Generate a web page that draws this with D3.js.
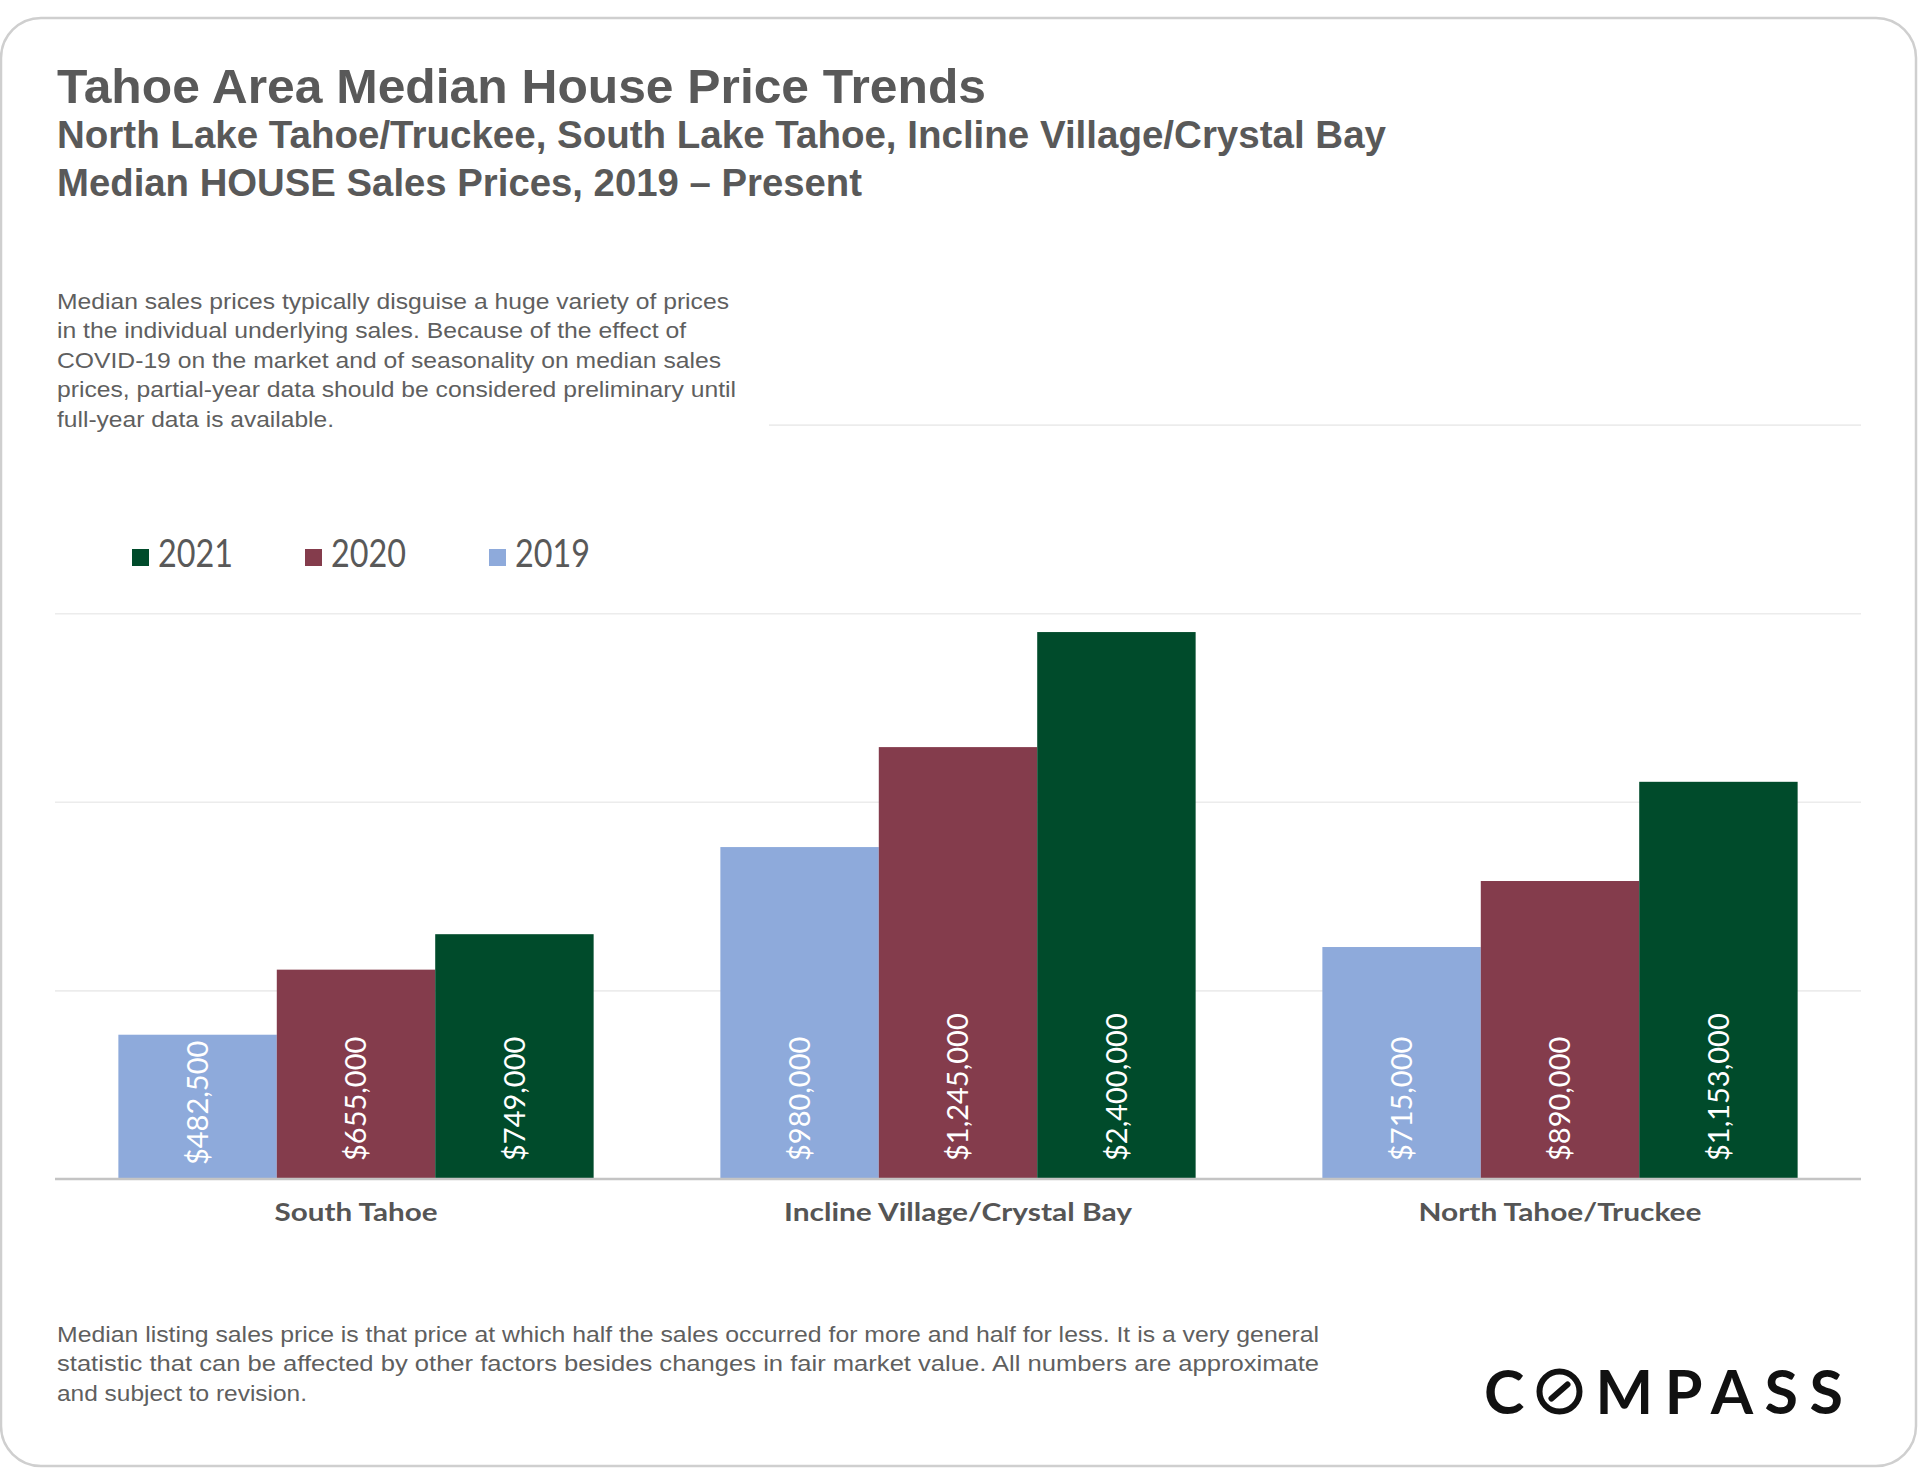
<!DOCTYPE html>
<html>
<head>
<meta charset="utf-8">
<script src="https://cdn.jsdelivr.net/npm/d3@7"></script>
<style>
  html, body { margin: 0; padding: 0; background: #fff; }
  svg { display: block; }
</style>
</head>
<body>
<svg id="chart"></svg>
<script>
const width = 1920, height = 1484;

const regions = ["South Tahoe", "Incline Village/Crystal Bay", "North Tahoe/Truckee"];
const years = ["2019", "2020", "2021"];
const legendYears = ["2021", "2020", "2019"];
const prices2019 = [482500, 980000, 715000];
const prices2020 = [655000, 1245000, 890000];
const prices2021 = [749000, 2400000, 1153000];
const gridTicks = [600000, 1100000, 1600000, 2100000];
// the reference cuts the $2.4M bar short, roughly at this level of its axis
const barCap = 1550000;

const colors = { "2019": "#8eaadb", "2020": "#843c4c", "2021": "#004b2b" };
const grey = "#595959";

const rows = regions.map((r, i) => ({
  region: r,
  values: [
    { year: "2019", v: prices2019[i] },
    { year: "2020", v: prices2020[i] },
    { year: "2021", v: prices2021[i] }
  ]
}));

const svg = d3.select("#chart").attr("width", width).attr("height", height);

// card frame
svg.append("rect")
  .attr("x", 1).attr("y", 18).attr("width", 1915).attr("height", 1448)
  .attr("rx", 40).attr("fill", "#fff")
  .attr("stroke", "#cfcfcf").attr("stroke-width", 2.5);

// plain text line, optionally squeezed to the width seen in the picture
function line(str, x, y, size, weight, family, len, fill) {
  const t = svg.append("text")
    .attr("x", x).attr("y", y)
    .attr("font-family", family)
    .attr("font-size", size)
    .attr("font-weight", weight)
    .attr("fill", fill || grey)
    .text(str);
  if (len) t.attr("textLength", len).attr("lengthAdjust", "spacingAndGlyphs");
  return t;
}

const sans = "'Liberation Sans', Arial, sans-serif";
const geo = "Lato, 'Open Sans', sans-serif";

line("Tahoe Area Median House Price Trends", 57, 103, 49, 700, sans, 929);
line("North Lake Tahoe/Truckee, South Lake Tahoe, Incline Village/Crystal Bay", 57, 148, 38, 700, sans, 1329);
line("Median HOUSE Sales Prices, 2019 \u2013 Present", 57, 196, 38, 700, sans, 805);

// scales
const x0 = d3.scaleBand().domain(regions).range([55, 1861]);
const x1 = d3.scaleBand().domain(years).range([0, x0.bandwidth()]).paddingOuter(0.4);
const y = d3.scaleLinear().domain([100000, 2100000]).range([1179, 424.6]);

// gridlines
const grid = svg.append("g")
  .attr("transform", "translate(55,0)")
  .call(d3.axisLeft(y).tickValues(gridTicks).tickSize(-(1861 - 55)).tickFormat(""));
grid.select(".domain").remove();
grid.selectAll(".tick line").attr("stroke", "#ececec").attr("stroke-width", 1.6);

// paragraph box sits on top of the upper gridline
svg.append("rect").attr("x", 50).attr("y", 270).attr("width", 719).attr("height", 170).attr("fill", "#fff");

const intro = [
  ["Median sales prices typically disguise a huge variety of prices", 672],
  ["in the individual underlying sales. Because of the effect of", 629],
  ["COVID-19 on the market and of seasonality on median sales", 664],
  ["prices, partial-year data should be considered preliminary until", 679],
  ["full-year data is available.", 277]
];
intro.forEach((d, i) => line(d[0], 57, 309 + i * 29.4, 22, 400, sans, d[1], "#5f5f5f"));

// legend
const legendX = [132, 305, 489];
legendYears.forEach((yr, i) => {
  svg.append("rect")
    .attr("x", legendX[i]).attr("y", 549).attr("width", 17).attr("height", 17)
    .attr("fill", colors[yr]);
  line(yr, legendX[i] + 26, 567, 38, 400, geo, 75);
});

// bars
const groups = svg.selectAll(".region")
  .data(rows)
  .enter()
  .append("g")
  .attr("class", "region")
  .attr("transform", d => "translate(" + x0(d.region) + ",0)");

groups.selectAll("rect")
  .data(d => d.values)
  .enter()
  .append("rect")
  .attr("x", d => x1(d.year))
  .attr("width", x1.bandwidth())
  .attr("y", d => y(Math.min(d.v, barCap)))
  .attr("height", d => y(100000) - y(Math.min(d.v, barCap)))
  .attr("fill", d => colors[d.year]);

// value labels, rotated, at the base of each bar
const fmt = d3.format("$,");
groups.selectAll(".val")
  .data(d => d.values)
  .enter()
  .append("text")
  .attr("class", "val")
  .attr("font-family", geo)
  .attr("font-size", 29)
  .attr("font-weight", 400)
  .attr("fill", "#fff")
  .attr("text-anchor", "start")
  .attr("dy", "0.36em")
  .text(d => fmt(d.v))
  .each(function(d) {
    const len = this.getComputedTextLength();
    const base = y(100000);
    const top = y(Math.min(d.v, barCap));
    let bottom = base - 18;
    if (bottom - len < top + 6) bottom = Math.min(base, top + 6 + len);
    const cx = x1(d.year) + x1.bandwidth() / 2;
    d3.select(this).attr("transform", "translate(" + cx + "," + bottom + ") rotate(-90)");
  });

// baseline
svg.append("line")
  .attr("x1", 55).attr("x2", 1861)
  .attr("y1", y(100000)).attr("y2", y(100000))
  .attr("stroke", "#c4c4c4").attr("stroke-width", 2.5);

// category labels
const catLen = [163, 348, 283];
regions.forEach((r, i) => {
  line(r, x0(r) + x0.bandwidth() / 2, 1221, 25, 700, geo, catLen[i], "#555")
    .attr("text-anchor", "middle");
});

// footnote
const notes = [
  ["Median listing sales price is that price at which half the sales occurred for more and half for less. It is a very general", 1262],
  ["statistic that can be affected by other factors besides changes in fair market value. All numbers are approximate", 1262],
  ["and subject to revision.", 250]
];
notes.forEach((d, i) => line(d[0], 57, 1342 + i * 29.4, 22, 400, sans, d[1], "#5f5f5f"));

// logo
const logo = svg.append("text")
  .attr("x", 1484).attr("y", 1414)
  .attr("font-family", geo)
  .attr("font-size", 61)
  .attr("font-weight", 700)
  .attr("fill", "#111")
  .attr("textLength", 359)
  .attr("lengthAdjust", "spacing");
logo.append("tspan").text("C");
logo.append("tspan").attr("fill-opacity", 0).text("O");
logo.append("tspan").text("MPASS");

const ob = logo.node().getExtentOfChar(1);
const ocx = ob.x + ob.width / 2, ocy = 1414 - 22.5, orr = 20;
svg.append("circle")
  .attr("cx", ocx).attr("cy", ocy).attr("r", orr)
  .attr("fill", "none").attr("stroke", "#111").attr("stroke-width", 6);
svg.append("line")
  .attr("x1", ocx - 8).attr("y1", ocy + 7)
  .attr("x2", ocx + 8).attr("y2", ocy - 7)
  .attr("stroke", "#111").attr("stroke-width", 6).attr("stroke-linecap", "round");
</script>
</body>
</html>
